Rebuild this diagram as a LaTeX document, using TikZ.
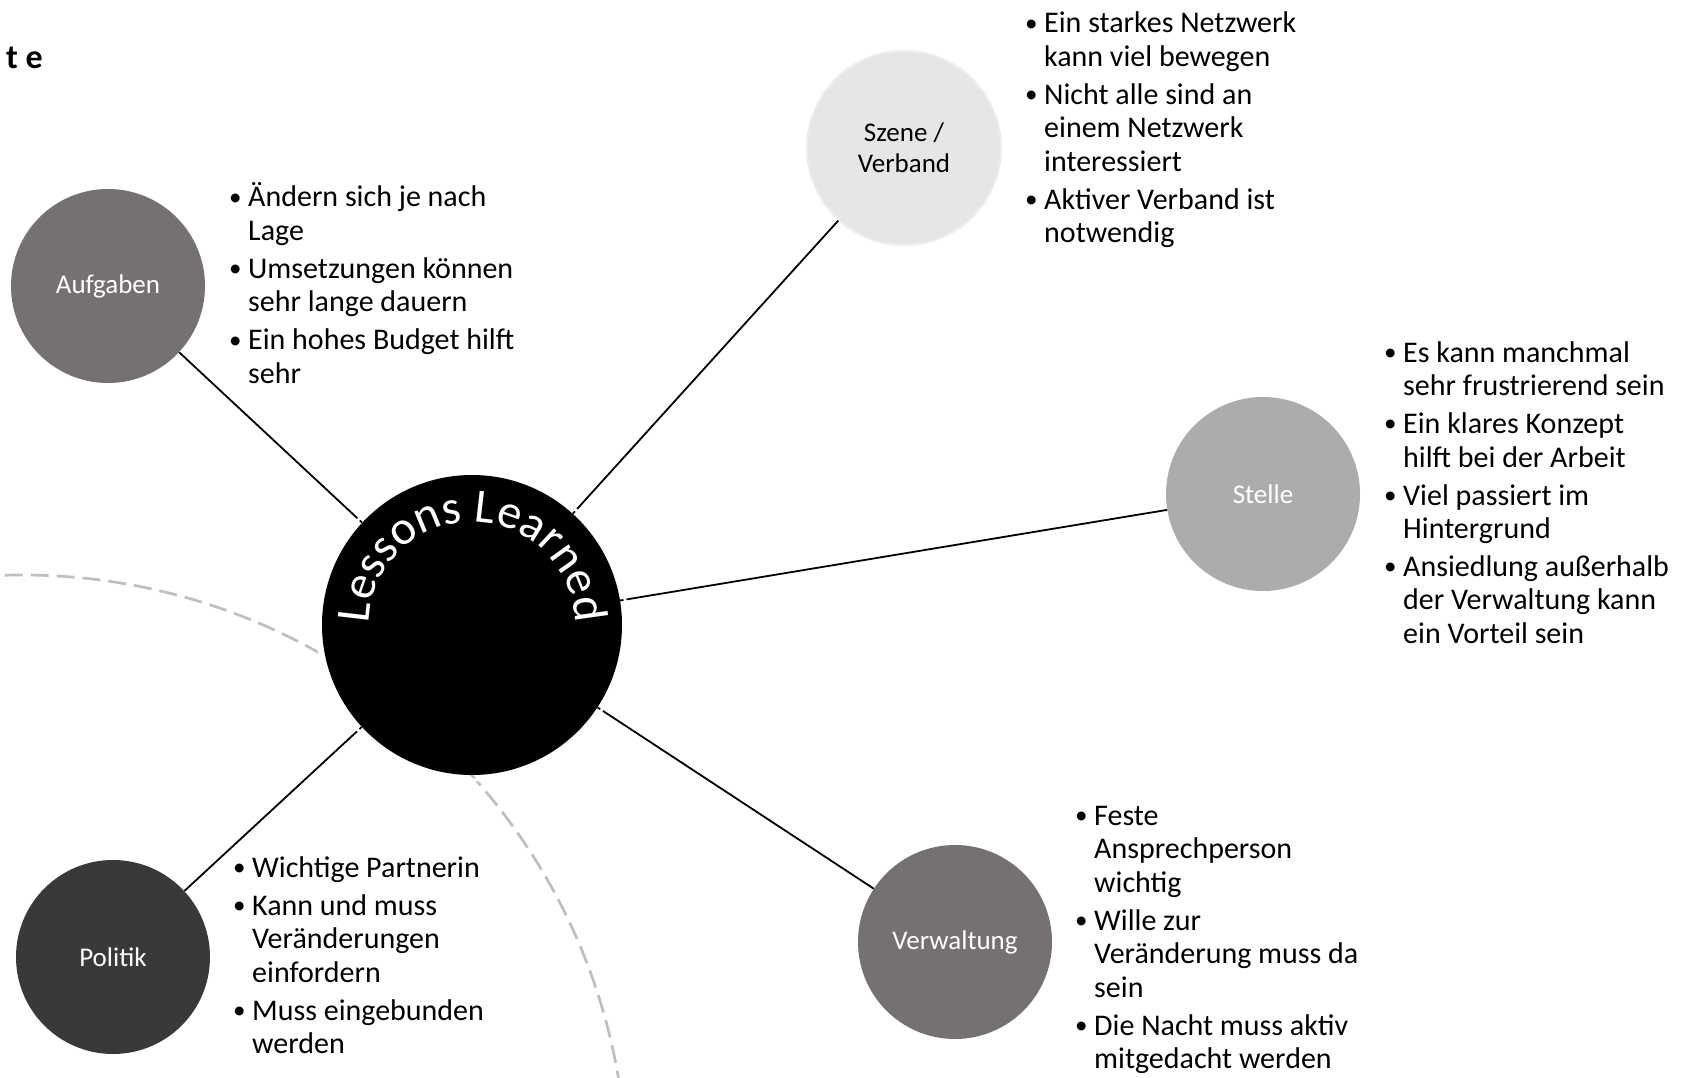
\documentclass[tikz,border=0pt]{standalone}
\usepackage{fontspec}
\setmainfont{Carlito}
\usetikzlibrary{decorations.text}
\definecolor{cAufg}{HTML}{767171}
\definecolor{cSzene}{HTML}{E7E6E6}
\definecolor{cSzeneRim}{HTML}{EDEDED}
\definecolor{cStelle}{HTML}{AEABAB}
\definecolor{cVerw}{HTML}{767171}
\definecolor{cPol}{HTML}{3B3838}
\definecolor{cDash}{HTML}{BFBFBF}
\newcommand{\bl}{\makebox[19pt][l]{\raisebox{1.5pt}{\fontsize{25}{25}\selectfont\textbullet}}}
\newcommand{\ind}{\hspace*{19pt}}
\newcommand{\blk}[1]{\begin{tabular}[t]{@{}l@{}}#1\end{tabular}}
\tikzset{
  bubble/.style={circle, minimum size=194pt, inner sep=0pt, font=\fontsize{27}{31}\selectfont, align=center},
  bullets/.style={anchor=base west, inner sep=0pt, font=\fontsize{30}{33.5}\selectfont},
  conn/.style={draw=black, line width=1.8pt},
  dashring/.style={draw=cDash, line width=2.7pt, dash pattern=on 18pt off 8pt},
}
\begin{document}
\begin{tikzpicture}[x=1pt,y=-1pt]
\useasboundingbox[fill=white] (0,0) rectangle (1682,1078);

% dashed background arc
\begin{scope}
  \clip (0,0) rectangle (1682,1078);
  \draw[dashring] (22,1180) circle[radius=605];
\end{scope}

% title fragment
\node[anchor=base west, inner sep=0pt, font=\fontsize{34}{40}\selectfont\bfseries] (titlefrag) at (6,69) {t e};

% bubbles
\node[bubble, fill=cAufg, text=white] (aufg) at (108,286) {Aufgaben};
\node[bubble, fill=cSzene, draw=cSzeneRim, line width=2pt] (szene) at (904,148) {Szene /\\Verband};
\node[bubble, fill=cStelle, text=white] (stelle) at (1263,494) {Stelle};
\node[bubble, fill=cVerw, text=white] (verw) at (955,942) {Verwaltung};
\node[bubble, fill=cPol, text=white] (pol) at (113,957) {Politik};
\node[circle, minimum size=300pt, inner sep=0pt, fill=black] (ll) at (472,625) {};

% connectors
\draw[conn] (ll) -- (aufg);
\draw[conn] (ll) -- (szene);
\draw[conn] (ll) -- (stelle);
\draw[conn] (ll) -- (verw);
\draw[conn] (ll) -- (pol);

% white gap ring around the centre
\draw[white, line width=3pt] (ll.center) circle[radius=155pt];

% curved title
\path[decorate, decoration={text along path, text align=center,
  text={|\fontsize{48}{48}\selectfont\color{white}|Lessons Learned}}]
  (ll.center) ++(178:103pt) arc[start angle=178, end angle=2, radius=103pt];

% bullet texts
\node[bullets] (aufgtxt) at (229,207) {\blk{\bl Ändern sich je nach\\ \ind Lage\\[4.5pt]
  \bl Umsetzungen können\\ \ind sehr lange dauern\\[4.5pt]
  \bl Ein hohes Budget hilft\\ \ind sehr}};

\node[bullets] (szenetxt) at (1025,33) {\blk{\bl Ein starkes Netzwerk\\ \ind kann viel bewegen\\[4.5pt]
  \bl Nicht alle sind an\\ \ind einem Netzwerk\\ \ind interessiert\\[4.5pt]
  \bl Aktiver Verband ist\\ \ind notwendig}};

\node[bullets] (stelletxt) at (1384,362) {\blk{\bl Es kann manchmal\\ \ind sehr frustrierend sein\\[4.5pt]
  \bl Ein klares Konzept\\ \ind hilft bei der Arbeit\\[4.5pt]
  \bl Viel passiert im\\ \ind Hintergrund\\[4.5pt]
  \bl Ansiedlung außerhalb\\ \ind der Verwaltung kann\\ \ind ein Vorteil sein}};

\node[bullets] (verwtxt) at (1075,825) {\blk{\bl Feste\\ \ind Ansprechperson\\ \ind wichtig\\[4.5pt]
  \bl Wille zur\\ \ind Veränderung muss da\\ \ind sein\\[4.5pt]
  \bl Die Nacht muss aktiv\\ \ind mitgedacht werden}};

\node[bullets] (poltxt) at (233,877) {\blk{\bl Wichtige Partnerin\\[4.5pt]
  \bl Kann und muss\\ \ind Veränderungen\\ \ind einfordern\\[4.5pt]
  \bl Muss eingebunden\\ \ind werden}};
\end{tikzpicture}
\end{document}
